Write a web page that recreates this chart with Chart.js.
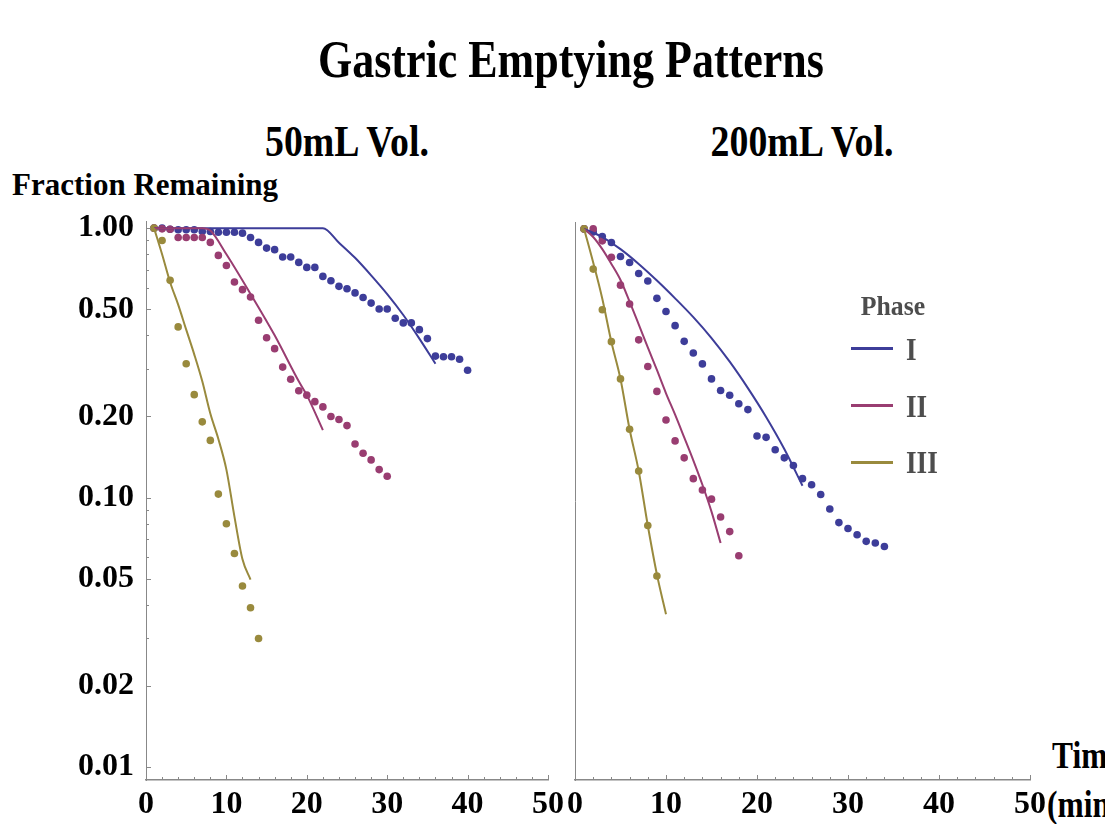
<!DOCTYPE html>
<html>
<head>
<title>Gastric Emptying Patterns</title>
<script src="https://cdn.jsdelivr.net/npm/chart.js"></script>
<style>
  body { margin: 0; width: 1105px; height: 824px; overflow: hidden; background: #fff; position: relative; font-family: 'Liberation Serif', serif; }
  .txt { position: absolute; white-space: nowrap; font-weight: bold; line-height: 1; }
  .ctr { transform-origin: center top; }
  .lft { transform-origin: left top; }
  .box { position: absolute; }
  .leg-line { position: absolute; height: 2.5px; width: 42px; left: 851px; }
</style>
</head>
<body>
  <div class="txt ctr" style="left:267px; width:600px; text-align:center; top:33px; font-size:53px; transform:scaleX(0.83);">Gastric Emptying Patterns</div>
  <div class="txt ctr" style="left:147px; width:400px; text-align:center; top:119px; font-size:45px; transform:scaleX(0.84);">50mL Vol.</div>
  <div class="txt ctr" style="left:602px; width:400px; text-align:center; top:119px; font-size:45px; transform:scaleX(0.84);">200mL Vol.</div>
  <div class="txt lft" style="left:12px; top:169px; font-size:31px;">Fraction Remaining</div>
  <div class="txt lft" style="left:1052px; top:737px; font-size:37px; transform:scaleX(0.85);">Time</div>
  <div class="txt lft" style="left:1047px; top:786px; font-size:37px; transform:scaleX(0.85);">(min)</div>

  <div class="box" style="left:0; top:190px; width:585px; height:634px;"><canvas id="left"></canvas></div>
  <div class="box" style="left:555px; top:202px; width:550px; height:622px;"><canvas id="right"></canvas></div>

  <!-- legend -->
  <div class="txt ctr" style="left:843px; width:100px; text-align:center; top:292px; font-size:28px; color:#4d4d4d; transform:scaleX(0.92);">Phase</div>
  <div class="leg-line" style="top:347px; background:#3d3d99;"></div>
  <div class="leg-line" style="top:404px; background:#993d71;"></div>
  <div class="leg-line" style="top:461px; background:#998a3d;"></div>
  <div class="txt lft" style="left:906px; top:333px; font-size:32px; color:#4d4d4d; transform:scaleX(0.85);">I</div>
  <div class="txt lft" style="left:906px; top:390px; font-size:32px; color:#4d4d4d; transform:scaleX(0.85);">II</div>
  <div class="txt lft" style="left:906px; top:446px; font-size:32px; color:#4d4d4d; transform:scaleX(0.85);">III</div>

<script>
// ---- tick labels ----
const xTickLabels = [0, 10, 20, 30, 40, 50];
const yTickLabels = [1.00, 0.50, 0.20, 0.10, 0.05, 0.02, 0.01];

// ---- 50 mL volume: measured fractions (dots) ----
const t50_I = [1,2,3,4,5,6,7,8,9,10,11,12,13,14,15,16,17,18,19,20,21,22,23,24,25,26,27,28,29,30,31,32,33,34,35,36,37,38,39,40];
const f50_I = [1.0,1.0,0.99,0.986,0.986,0.986,0.972,0.972,0.966,0.966,0.966,0.958,0.923,0.885,0.843,0.832,0.781,0.781,0.746,0.715,0.715,0.662,0.638,0.608,0.596,0.575,0.553,0.527,0.501,0.501,0.463,0.445,0.445,0.42,0.389,0.335,0.333,0.333,0.326,0.297];
const t50_II = [1,2,3,4,5,6,7,8,9,10,11,12,13,14,15,16,17,18,19,20,21,22,23,24,25,26,27,28,29,30];
const f50_II = [1.0,0.994,0.99,0.923,0.923,0.923,0.923,0.885,0.792,0.727,0.631,0.591,0.555,0.455,0.392,0.357,0.305,0.275,0.249,0.24,0.227,0.217,0.2,0.195,0.185,0.158,0.146,0.138,0.127,0.12];
const t50_III = [1,2,3,4,5,6,7,8,9,10,11,12,13,14];
const f50_III = [1.0,0.9,0.64,0.43,0.314,0.241,0.191,0.163,0.103,0.08,0.062,0.047,0.039,0.03];

// ---- 50 mL volume: model curves ----
const m50_I_t = [1,22,24,26,28,30,32,34,36];
const m50_I_f = [1.0,1.0,0.883,0.776,0.668,0.569,0.476,0.389,0.314];
const m50_II_t = [1,7,8,10,13,16,19,20,22];
const m50_II_f = [1.0,1.0,0.98,0.80,0.57,0.40,0.27,0.24,0.178];
const m50_III_t = [1,2,3,4,5,6,7,8,9,10,11,12,13];
const m50_III_f = [1.0,0.8,0.63,0.52,0.42,0.34,0.27,0.205,0.165,0.127,0.085,0.059,0.0496];

// ---- 200 mL volume: measured fractions (dots) ----
const t200_I = [1,2,3,4,5,6,7,8,9,10,11,12,13,14,15,16,17,18,19,20,21,22,23,24,25,26,27,28,29,30,31,32,33,34];
const f200_I = [1.0,0.975,0.937,0.89,0.79,0.75,0.683,0.64,0.552,0.493,0.437,0.382,0.346,0.315,0.277,0.251,0.241,0.224,0.213,0.17,0.168,0.151,0.141,0.132,0.118,0.112,0.103,0.091,0.081,0.077,0.073,0.069,0.068,0.066];
const t200_II = [1,2,3,4,5,6,7,8,9,10,11,12,13,14,15,16,17,18];
const f200_II = [1.0,1.0,0.903,0.785,0.618,0.526,0.387,0.308,0.249,0.195,0.163,0.141,0.118,0.107,0.099,0.085,0.075,0.061];
const t200_III = [1,2,3,4,5,6,7,8,9];
const f200_III = [1.0,0.709,0.501,0.381,0.277,0.18,0.126,0.079,0.0513];

// ---- 200 mL volume: model curves ----
const m200_I_t = [1,3,5,7,9,11,13,15,17,19,21,23,25];
const m200_I_f = [1.0,0.933,0.841,0.741,0.643,0.552,0.470,0.393,0.321,0.256,0.200,0.152,0.111];
const m200_II_t = [1,2,3,4,5,6,7,8,9,10,11,12,13,14,15,16];
const m200_II_f = [1.0,0.933,0.841,0.741,0.646,0.537,0.442,0.363,0.299,0.245,0.204,0.168,0.138,0.112,0.089,0.068];
const m200_III_t = [1,2,3,4,5,6,7,8,9,10];
const m200_III_f = [1.0,0.75,0.55,0.38,0.277,0.18,0.126,0.079,0.052,0.037];

const colors = ['#3d3d99', '#993d71', '#998a3d'];
const tickFont = { family: 'Liberation Serif', size: 32, weight: 'bold' };

function pts(t, f) { return t.map((x, i) => ({ x: x, y: f[i] })); }

function dotSet(t, f, c, order) {
  return { data: pts(t, f), showLine: false, pointRadius: 3.8, pointHoverRadius: 3.8,
           pointBackgroundColor: c, pointBorderWidth: 0, order: order };
}
function lineSet(t, f, c, order) {
  return { data: pts(t, f), showLine: true, borderColor: c, borderWidth: 2,
           pointRadius: 0, cubicInterpolationMode: 'monotone', order: order };
}

// small inward ticks like the original axes
const innerTicks = {
  id: 'innerTicks',
  afterDatasetsDraw(chart, args, opts) {
    const ctx = chart.ctx, area = chart.chartArea;
    const xs = chart.scales.x, ys = chart.scales.y;
    ctx.save();
    ctx.strokeStyle = '#888';
    ctx.lineWidth = 1;
    ctx.beginPath();
    for (let v = 0; v <= 50; v += 2) {
      const px = Math.round(xs.getPixelForValue(v)) + 0.5;
      const len = v % 10 === 0 ? 5 : 3;
      ctx.moveTo(px, area.bottom);
      ctx.lineTo(px, area.bottom - len);
    }
    if (opts.yTicks) {
      [0.01, 0.1, 1].forEach(d => {
        for (let k = 1; k <= 9; k++) {
          const v = d * k;
          if (v > 1.0001) break;
          const py = Math.round(ys.getPixelForValue(v)) + 0.5;
          const len = yTickLabels.some(l => Math.abs(l - v) < 1e-9) ? 5 : 3;
          ctx.moveTo(area.left, py);
          ctx.lineTo(area.left + len, py);
        }
      });
    }
    ctx.stroke();
    ctx.restore();
  }
};

function makeChart(id, datasets, yLabels, padding, yWidth) {
  return new Chart(document.getElementById(id), {
    type: 'scatter',
    data: { datasets: datasets },
    plugins: [innerTicks],
    options: {
      responsive: true,
      maintainAspectRatio: false,
      animation: false,
      layout: { padding: padding },
      plugins: { legend: { display: false }, tooltip: { enabled: false }, innerTicks: { yTicks: yLabels } },
      scales: {
        x: {
          type: 'linear', min: 0, max: 50,
          afterBuildTicks: s => { s.ticks = xTickLabels.map(v => ({ value: v })); },
          afterFit: s => { s.height = 44; },
          grid: { display: false, drawTicks: false },
          border: { display: true, color: '#888', width: 1.5 },
          ticks: { font: tickFont, color: '#000', padding: 6, maxRotation: 0, autoSkip: false }
        },
        y: {
          type: 'logarithmic', min: 0.00895, max: 1.061,
          afterBuildTicks: s => { s.ticks = yTickLabels.map(v => ({ value: v })); },
          afterFit: s => { s.width = yWidth; },
          grid: { display: false, drawTicks: false },
          border: { display: true, color: '#888', width: 1 },
          ticks: { display: yLabels, font: tickFont, color: '#000', padding: 12, autoSkip: false,
                   callback: v => Number(v).toFixed(2) }
        }
      }
    }
  });
}

makeChart('left', [
  dotSet(t50_I, f50_I, colors[0], 6),
  dotSet(t50_II, f50_II, colors[1], 5),
  dotSet(t50_III, f50_III, colors[2], 4),
  lineSet(m50_I_t, m50_I_f, colors[0], 3),
  lineSet(m50_II_t, m50_II_f, colors[1], 2),
  lineSet(m50_III_t, m50_III_f, colors[2], 1)
], true, { top: 20, right: 37, left: 0, bottom: 0 }, 146);

makeChart('right', [
  dotSet(t200_I, f200_I, colors[0], 6),
  dotSet(t200_II, f200_II, colors[1], 5),
  dotSet(t200_III, f200_III, colors[2], 4),
  lineSet(m200_I_t, m200_I_f, colors[0], 3),
  lineSet(m200_II_t, m200_II_f, colors[1], 2),
  lineSet(m200_III_t, m200_III_f, colors[2], 1)
], false, { top: 20, right: 75, left: 0, bottom: 0 }, 20);
</script>
</body>
</html>
